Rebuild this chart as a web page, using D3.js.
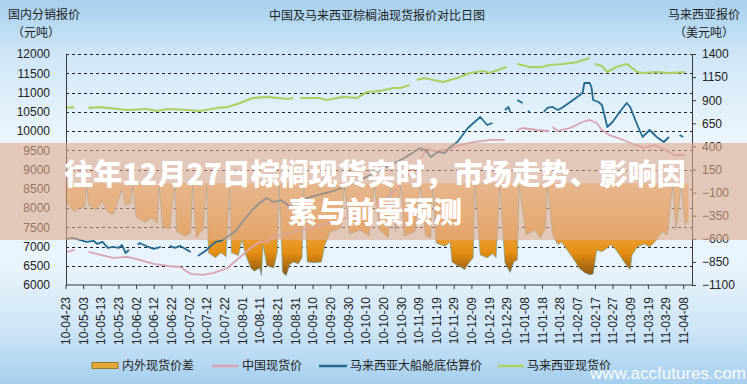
<!DOCTYPE html>
<html><head><meta charset="utf-8">
<script src="https://cdn.jsdelivr.net/npm/d3@7"></script>
<style>body{margin:0;background:#fff;} svg{display:block;}</style>
</head><body>
<svg id="chart" width="747" height="384"></svg>
<script>
// ---------- DATA ----------
const tickLabels = ["10-04-23","10-05-03","10-05-13","10-05-23","10-06-02","10-06-12","10-06-22","10-07-02","10-07-12","10-07-22","10-08-01","10-08-11","10-08-21","10-08-31","10-09-10","10-09-20","10-09-30","10-10-10","10-10-20","10-10-30","10-11-09","10-11-19","10-11-29","10-12-09","10-12-19","10-12-29","11-01-08","11-01-18","11-01-28","11-02-07","11-02-17","11-02-27","11-03-09","11-03-19","11-03-29","11-04-08"];
const leftTicks = [6000,6500,7000,7500,8000,8500,9000,9500,10000,10500,11000,11500,12000];
const rightTicks = [-1100,-850,-600,-350,-100,150,400,650,900,1150,1400];
const seriesNames = ["内外现货价差","中国现货价","马来西亚大船舱底估算价","马来西亚现货价"];

// 内外现货价差 (right axis)
const spread = [["10-04-23",-200],["10-04-25",-235],["10-04-28",-310],["10-05-01",-265],["10-05-04",-255],["10-05-05",-20],["10-05-06",-235],["10-05-10",-290],["10-05-14",-200],["10-05-17",-310],["10-05-20",-340],["10-05-22",-235],["10-05-25",-70],["10-05-27",-235],["10-05-30",-215],["10-05-31",0],["10-06-02",-365],["10-06-07",-420],["10-06-11",-375],["10-06-14",-430],["10-06-15",-30],["10-06-17",-470],["10-06-21",-495],["10-06-24",-20],["10-06-25",-525],["10-06-30",-570],["10-07-03",-535],["10-07-04",-20],["10-07-06",-590],["10-07-10",-495],["10-07-12",-20],["10-07-13",-750],["10-07-17",-805],["10-07-20",-750],["10-07-23",-795],["10-07-25",-20],["10-07-26",-750],["10-07-30",-780],["10-08-01",-610],["10-08-03",-770],["10-08-06",-915],["10-08-08",-950],["10-08-11",-915],["10-08-12",-1000],["10-08-13",-665],["10-08-15",-890],["10-08-19",-915],["10-08-21",-745],["10-08-22",-20],["10-08-24",-960],["10-08-26",-1000],["10-08-28",-880],["10-08-30",-850],["10-09-02",-870],["10-09-04",-805],["10-09-05",-20],["10-09-07",-850],["10-09-11",-860],["10-09-15",-850],["10-09-17",-665],["10-09-20",-525],["10-09-26",-485],["10-09-28",-20],["10-10-01",-550],["10-10-07",-505],["10-10-12",-570],["10-10-15",-20],["10-10-18",-505],["10-10-23",-590],["10-10-24",-20],["10-10-27",-525],["10-10-30",-20],["10-11-01",-570],["10-11-07",-525],["10-11-10",-20],["10-11-13",-560],["10-11-16",-590],["10-11-17",-20],["10-11-19",-645],["10-11-24",-680],["10-11-27",-635],["10-11-28",-850],["10-12-01",-890],["10-12-04",-915],["10-12-05",-935],["10-12-08",-850],["10-12-10",-805],["10-12-11",-20],["10-12-14",-775],["10-12-18",-805],["10-12-21",-760],["10-12-23",-805],["10-12-25",-20],["10-12-28",-860],["10-12-31",-965],["11-01-02",-850],["11-01-04",-830],["11-01-05",-20],["11-01-09",-560],["11-01-14",-505],["11-01-17",-590],["11-01-20",-485],["11-01-21",-20],["11-01-24",-560],["11-01-27",-665],["11-01-29",-635],["11-02-02",-740],["11-02-06",-850],["11-02-08",-915],["11-02-11",-965],["11-02-14",-990],["11-02-16",-980],["11-02-18",-720],["11-02-21",-740],["11-02-24",-700],["11-02-26",-665],["11-03-01",-720],["11-03-04",-805],["11-03-07",-890],["11-03-09",-935],["11-03-10",-775],["11-03-13",-690],["11-03-17",-655],["11-03-20",-690],["11-03-24",-610],["11-03-27",-525],["11-03-30",-560],["11-04-02",-20],["11-04-04",-505],["11-04-07",-20],["11-04-09",-450],["11-04-11",-395]];

// 中国现货价 (left axis)
const chinaSpot = [["10-04-24",6858],["10-04-28",6910],["10-05-02",null],["10-05-06",6858],["10-05-13",6780],["10-05-20",6702],["10-05-28",6728],["10-06-04",6650],["10-06-12",6546],["10-06-20",6494],["10-06-27",6468],["10-07-03",6287],["10-07-10",6261],["10-07-16",6313],["10-07-24",6442],["10-07-27",6572],["10-07-31",6728],["10-08-06",6962],["10-08-11",7118],["10-08-15",7118],["10-08-19",7248],["10-08-28",7351],["10-09-11",7507],["10-09-26",7689],["10-10-10",7949],["10-10-24",8338],["10-11-01",8728],["10-11-10",9247],["10-11-14",9559],["10-11-19",9455],["10-11-24",9507],["10-12-03",9637],["10-12-11",9715],["10-12-20",9767],["10-12-28",9767],["11-01-01",null],["11-01-04",10026],["11-01-07",10078],["11-01-15",10026],["11-01-22",10000],["11-01-23",null],["11-01-24",10104],["11-01-27",10000],["11-02-03",10078],["11-02-10",10234],["11-02-14",10286],["11-02-18",10208],["11-02-21",10026],["11-02-25",9896],["11-03-05",9767],["11-03-12",9637],["11-03-17",9559],["11-03-23",9637],["11-03-29",9507],["11-04-03",9377],["11-04-09",9377]];

// 马来西亚大船舱底估算价 (left axis)
const malaysiaShip = [["10-04-24",7196],["10-04-27",7222],["10-05-05",7118],["10-05-09",7144],["10-05-11",7066],["10-05-14",7118],["10-05-17",6962],["10-05-20",6988],["10-05-23",6962],["10-05-25",7040],["10-05-27",6832],["10-05-29",6910],["10-05-31",null],["10-06-03",7040],["10-06-04",7092],["10-06-09",6988],["10-06-12",6936],["10-06-16",6988],["10-06-19",null],["10-06-21",7014],["10-06-24",6962],["10-06-27",7014],["10-06-30",6936],["10-07-03",6858],["10-07-05",null],["10-07-07",6754],["10-07-12",6910],["10-07-15",7040],["10-07-17",7118],["10-07-20",7144],["10-07-27",7352],["10-07-29",7430],["10-08-02",7689],["10-08-07",7949],["10-08-11",8130],["10-08-15",8260],["10-08-19",8156],["10-08-23",8208],["10-08-27",8078],["10-08-28",8027],["10-09-03",8208],["10-09-11",8312],["10-09-20",8416],["10-09-28",8546],["10-10-07",8728],["10-10-15",8910],["10-10-24",9117],["10-11-01",9299],["10-11-10",9559],["10-11-13",9507],["10-11-16",9325],["10-11-20",9455],["10-11-24",9429],["10-11-27",9585],["10-12-01",9715],["10-12-07",10078],["10-12-14",10364],["10-12-18",10156],["10-12-21",10208],["10-12-23",null],["10-12-28",10546],["10-12-30",10624],["10-12-31",10494],["11-01-02",null],["11-01-04",10805],["11-01-07",10727],["11-01-09",null],["11-01-10",10494],["11-01-11",10520],["11-01-12",null],["11-01-19",10494],["11-01-21",10598],["11-01-24",10624],["11-01-27",10546],["11-01-30",10624],["11-02-03",10753],["11-02-07",10883],["11-02-10",10987],["11-02-11",11247],["11-02-14",11247],["11-02-15",11143],["11-02-16",10805],["11-02-19",10753],["11-02-21",10676],["11-02-24",10104],["11-02-27",10234],["11-03-03",10494],["11-03-07",10727],["11-03-09",10624],["11-03-13",10156],["11-03-16",9844],["11-03-20",10026],["11-03-24",9844],["11-03-28",9715],["11-03-31",9844],["11-04-02",null],["11-04-06",9896],["11-04-08",9844]];

// 马来西亚现货价 (right axis)
const malaysiaSpot = [["10-04-23",816],["10-04-28",826],["10-05-02",null],["10-05-06",816],["10-05-13",826],["10-05-28",794],["10-06-08",805],["10-06-14",783],["10-06-20",805],["10-07-01",794],["10-07-08",783],["10-07-18",816],["10-07-24",826],["10-07-31",870],["10-08-07",924],["10-08-15",935],["10-08-27",913],["10-08-30",924],["10-09-01",null],["10-09-03",924],["10-09-14",924],["10-09-18",902],["10-09-27",935],["10-10-05",924],["10-10-11",989],["10-10-18",1000],["10-10-26",1032],["10-10-30",1032],["10-11-04",1065],["10-11-06",null],["10-11-08",1119],["10-11-12",1140],["10-11-23",1097],["10-12-01",1140],["10-12-08",1194],["10-12-16",1216],["10-12-19",1194],["10-12-29",1259],["11-01-01",null],["11-01-04",1292],["11-01-11",1259],["11-01-18",1259],["11-01-22",1281],["11-01-30",1292],["11-02-07",1313],["11-02-14",1357],["11-02-15",null],["11-02-17",1292],["11-02-21",1270],["11-02-24",1205],["11-03-01",1259],["11-03-07",1292],["11-03-13",1205],["11-03-16",1194],["11-03-24",1205],["11-03-31",1194],["11-04-09",1205]];

// ---------- DRAW ----------
const parse = d3.timeParse("%y-%m-%d");
const svg = d3.select("#chart");
const W = 747, H = 384;
const cjk = "'Noto Sans CJK SC','Noto Sans',sans-serif";
const latin = "'Liberation Sans',Arial,sans-serif";

const defs = svg.append("defs");
const bg = defs.append("linearGradient").attr("id","bg").attr("x1",0).attr("y1",0).attr("x2",0).attr("y2",1);
[[0,"#a6d0ef"],[0.14,"#cfe6f7"],[0.35,"#eaf5fc"],[0.7,"#e8f3fb"],[0.86,"#cde5f6"],[1,"#a6cfee"]]
  .forEach(([o,c])=>bg.append("stop").attr("offset",o).attr("stop-color",c));
svg.append("rect").attr("width",W).attr("height",H).attr("fill","url(#bg)");

const x = d3.scaleTime().domain([parse("10-04-23"), parse("11-04-13")]).range([65.5, 692]);
const yL = d3.scaleLinear().domain([6000,12000]).range([285,54]);
const yR = d3.scaleLinear().domain([-1100,1400]).range([285,54]);

// area gradient
const ag = defs.append("linearGradient").attr("id","ag").attr("gradientUnits","userSpaceOnUse")
  .attr("x1",0).attr("x2",0).attr("y1",yR(0)).attr("y2",yR(-1000));
[[0,"#f6c98e"],[0.45,"#f0aa50"],[0.75,"#e58e12"],[1,"#8a5510"]]
  .forEach(([o,c])=>ag.append("stop").attr("offset",o).attr("stop-color",c));

// gridlines
svg.append("g").selectAll("line").data(leftTicks.filter(v=>v>6000)).join("line")
  .attr("x1",66).attr("x2",692)
  .attr("y1",d=>Math.round(yL(d))+0.5).attr("y2",d=>Math.round(yL(d))+0.5)
  .attr("stroke","#222").attr("stroke-width",1).attr("stroke-dasharray","3,3");

// spread area
const sp = spread.map(d=>({date:parse(d[0]), v:d[1]}));
svg.append("path").datum(sp)
  .attr("d", d3.area().x(d=>x(d.date)).y0(yR(0)).y1(d=>yR(d.v)))
  .attr("fill","url(#ag)");
svg.append("path").datum(sp)
  .attr("d", d3.line().x(d=>x(d.date)).y(d=>yR(d.v)))
  .attr("fill","none").attr("stroke","#5e9ea0").attr("stroke-width",0.8).attr("opacity",0.7);

function drawLine(arr, scale, color, w){
  const data = arr.map(d=>({date:parse(d[0]), v:d[1]}));
  svg.append("path").datum(data)
    .attr("d", d3.line().defined(d=>d.v!=null).x(d=>x(d.date)).y(d=>scale(d.v)))
    .attr("fill","none").attr("stroke",color).attr("stroke-width",w).attr("stroke-linejoin","round");
}
drawLine(chinaSpot, yL, "#d9a3b1", 1.8);
drawLine(malaysiaShip, yL, "#236a8e", 1.8);
drawLine(malaysiaSpot, yR, "#acd064", 2.2);

// axes
const gl = svg.append("g").attr("transform","translate(66,0)")
  .call(d3.axisLeft(yL).tickValues(leftTicks).tickSize(0).tickPadding(16).tickFormat(d3.format("d")));
const gr = svg.append("g").attr("transform","translate(692,0)")
  .call(d3.axisRight(yR).tickValues(rightTicks).tickSize(4).tickPadding(6).tickFormat(d3.format("d")));
const gb = svg.append("g").attr("transform","translate(0,285)")
  .call(d3.axisBottom(x).tickValues(tickLabels.map(parse)).tickSize(4).tickFormat(d3.timeFormat("%y-%m-%d")));
gb.selectAll("text").attr("x",-12).attr("y",0).attr("dy","0.35em")
  .attr("transform","rotate(-90)").style("text-anchor","end");
[gl,gr,gb].forEach(g=>{
  g.selectAll("path,line").attr("stroke","#3a3a3a");
  g.selectAll("text").attr("fill","#222").style("font-family",latin).style("font-size","12px");
});
gb.select(".domain").attr("d","M66,0H692");

// titles
const t = (s,xx,yy,anchor,size,fam)=>svg.append("text").text(s).attr("x",xx).attr("y",yy)
  .attr("text-anchor",anchor||"start").attr("fill","#222").style("font-family",fam||cjk).style("font-size",(size||12)+"px");
t("国内分销报价",8,19);
t("（元吨）",12,37);
t("中国及马来西亚棕榈油现货报价对比日图",377,20,"middle");
t("马来西亚报价",668,19);
t("（美元吨）",674,37);

// legend
const lg = svg.append("g");
lg.append("rect").attr("x",92).attr("y",362.5).attr("width",26).attr("height",6).attr("fill","#e3a73a").attr("stroke","#9c7a2c").attr("stroke-width",1);
t(seriesNames[0],122,370);
lg.append("line").attr("x1",212).attr("x2",238).attr("y1",366).attr("y2",366).attr("stroke","#d9a3b1").attr("stroke-width",2.5);
t(seriesNames[1],242,370);
lg.append("line").attr("x1",319).attr("x2",347).attr("y1",366).attr("y2",366).attr("stroke","#236a8e").attr("stroke-width",2.5);
t(seriesNames[2],350,370);
lg.append("line").attr("x1",498).attr("x2",524).attr("y1",366).attr("y2",366).attr("stroke","#acd064").attr("stroke-width",2.5);
t(seriesNames[3],527,370);

// watermark site text
svg.append("text").text("www.accfutures.com").attr("x",590).attr("y",379)
  .attr("fill","#ffffff").style("font-family",latin).style("font-size","17px").attr("opacity",0.95);

// overlay banner
svg.append("rect").attr("x",0).attr("y",143).attr("width",W).attr("height",97)
  .attr("fill","rgb(222,170,140)").attr("opacity",0.6);
const bt = (s,yy)=>svg.append("text").text(s).attr("x",375).attr("y",yy).attr("text-anchor","middle")
  .attr("fill","#ffffff").style("font-family","'Noto Sans CJK SC',sans-serif").style("font-weight",900).style("font-size","29px");
bt("往年12月27日棕榈现货实时，市场走势、影响因",185);
bt("素与前景预测",223);
</script>
</body></html>
